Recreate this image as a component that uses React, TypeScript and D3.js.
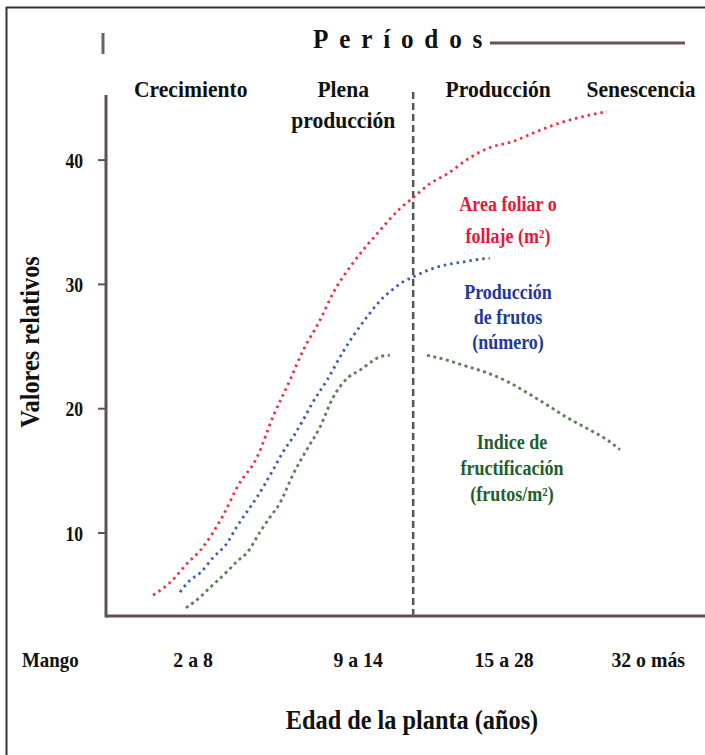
import React from "react";
import * as d3 from "d3";

// Relative plant age (0–100 along the axis) and relative values
const areaX = [7.7, 10.5, 13.5, 15.6, 19.4, 21.9, 25.1, 27.8, 30.6, 32.8, 35.6, 37.8, 41.1, 45.2, 49.0, 51.0, 54.0, 56.9, 60.7, 64.0, 67.9, 71.9, 75.8, 79.6, 83.6];
const areaY = [5.0, 6.0, 7.6, 8.6, 11.4, 13.8, 16.1, 19.4, 22.3, 24.7, 27.1, 29.3, 31.7, 34.1, 36.1, 36.9, 38.1, 38.9, 40.2, 41.0, 41.5, 42.3, 43.0, 43.5, 43.9];

const frutosX = [12.2, 13.9, 15.6, 17.7, 20.1, 21.7, 23.4, 25.1, 27.8, 29.4, 31.1, 32.8, 34.4, 36.8, 39.5, 41.1, 43.5, 45.7, 47.8, 49.5, 51.2, 54.0, 56.9, 59.5, 61.9, 64.0];
const frutosY = [5.25, 6.2, 6.8, 8.0, 9.2, 10.5, 11.7, 12.9, 15.1, 16.5, 17.7, 19.1, 20.5, 22.3, 24.6, 25.8, 27.4, 28.7, 29.6, 30.2, 30.6, 31.2, 31.6, 31.8, 32.0, 32.1];

const indiceX = [13.2, 15.6, 17.2, 20.1, 21.7, 23.4, 25.6, 27.3, 28.9, 31.1, 33.4, 35.6, 37.8, 40.3, 42.3, 44.3, 45.7, 47.3, 50, 53.5, 56.9, 60.2, 63.5, 66.9, 70.2, 73.6, 76.9, 80.3, 83.6, 85.8];
const indiceY: (number | null)[] = [3.97, 4.86, 5.6, 6.9, 7.7, 8.4, 10.1, 11.3, 12.4, 14.7, 16.7, 18.5, 20.9, 22.5, 23.1, 23.8, 24.2, 24.3, null, 24.3, 23.9, 23.4, 22.9, 22.2, 21.3, 20.3, 19.3, 18.4, 17.5, 16.7];

const yTicks = [10, 20, 30, 40];
const xTickLabels = ["2 a 8", "9 a 14", "15 a 28", "32 o más"];
const xTickPos = [14.4, 42, 66.4, 90.5];
const periodLabels = [["Crecimiento"], ["Plena", "producción"], ["Producción"], ["Senescencia"]];
const periodPos = [14.0, 39.5, 65.4, 89.3];
const boundaryX = 51.2;

const areaLabel = ["Area foliar o", "follaje (m²)"];
const frutosLabel = ["Producción", "de frutos", "(número)"];
const indiceLabel = ["Indice de", "fructificación", "(frutos/m²)"];

const FONT = "'Liberation Serif', 'Times New Roman', serif";

function CText(props: { x: number; y: number; size: number; sx?: number; anchor?: string; fill?: string; rotate?: number; children: any; ls?: number; baseline?: string }) {
  const { x, y, size, sx = 0.9, anchor = "middle", fill = "#111", rotate = 0, ls, baseline } = props;
  return (
    <text
      transform={`translate(${x},${y}) rotate(${rotate}) scale(${sx},1)`}
      fontFamily={FONT}
      fontWeight="bold"
      fontSize={size}
      textAnchor={anchor}
      fill={fill}
      letterSpacing={ls}
      dominantBaseline={baseline}
    >
      {props.children}
    </text>
  );
}

export default function App() {
  const W = 705, H = 755;
  const x = d3.scaleLinear().domain([0, 100]).range([107, 705]);
  const y = d3.scaleLinear().domain([0, 40]).range([657.3, 160.1]);
  const yBottom = 616;

  const mk = (xs: number[], ys: (number | null)[]) =>
    d3.line<number>()
      .defined((i) => ys[i] !== null)
      .x((i) => x(xs[i]))
      .y((i) => y(ys[i] as number))
      .curve(d3.curveMonotoneX)(xs.map((_, i) => i)) || "";

  const red = "#ef2f45";
  const blue = "#3d5fa6";
  const green = "#5f7f58";
  const axisCol = "#5e5250";

  return (
    <svg width={W} height={H} style={{ position: "absolute", left: 0, top: 0, background: "#fff" }}>
      {/* frame */}
      <line x1={6} y1={7.5} x2={W} y2={7.5} stroke="#333" strokeWidth={2} />
      <line x1={6.5} y1={7} x2={6.5} y2={H} stroke="#333" strokeWidth={2} />

      {/* title */}
      <line x1={103} y1={33} x2={103} y2={54} stroke="#6b6262" strokeWidth={3} />
      <CText x={313} y={48} size={28} anchor="start" ls={12}>Períodos</CText>
      <line x1={490} y1={43} x2={685} y2={43} stroke="#6b5552" strokeWidth={3} />

      {/* period labels */}
      {periodLabels.map((lines, i) =>
        lines.map((t, j) => (
          <CText key={`${i}-${j}`} x={x(periodPos[i])} y={97 + j * 31} size={24}>{t}</CText>
        ))
      )}

      {/* axes */}
      <line x1={x(0) - 1} y1={95} x2={x(0) - 1} y2={yBottom + 1.5} stroke={axisCol} strokeWidth={3} />
      <line x1={x(0) - 1} y1={yBottom} x2={W} y2={yBottom} stroke={axisCol} strokeWidth={3} />
      {yTicks.map((t) => (
        <g key={t}>
          <line x1={98} x2={x(0)} y1={y(t)} y2={y(t)} stroke={axisCol} strokeWidth={2} />
          <CText x={83} y={y(t)} size={22} sx={0.8} anchor="end" baseline="central">{t}</CText>
        </g>
      ))}

      {/* period boundary */}
      <line x1={x(boundaryX)} y1={92} x2={x(boundaryX)} y2={yBottom} stroke="#555" strokeWidth={2.5} strokeDasharray="7 4" />

      {/* series */}
      <path d={mk(areaX, areaY)} fill="none" stroke={red} strokeWidth={2.8} strokeDasharray="2.5 4" />
      <path d={mk(frutosX, frutosY)} fill="none" stroke={blue} strokeWidth={2.8} strokeDasharray="2.5 4" />
      <path d={mk(indiceX, indiceY)} fill="none" stroke={green} strokeWidth={2.8} strokeDasharray="3 3.5" />

      {/* series labels */}
      {areaLabel.map((t, i) => (
        <CText key={t} x={508} y={211 + i * 32} size={20} fill="#e8173a">{t}</CText>
      ))}
      {frutosLabel.map((t, i) => (
        <CText key={t} x={508} y={299 + i * 25} size={20} fill="#22399a">{t}</CText>
      ))}
      {indiceLabel.map((t, i) => (
        <CText key={t} x={512} y={449 + i * 26} size={20} fill="#1f5e2c">{t}</CText>
      ))}

      {/* x tick labels */}
      <CText x={22} y={667} size={21} anchor="start">Mango</CText>
      {xTickLabels.map((t, i) => (
        <CText key={t} x={x(xTickPos[i])} y={667} size={22}>{t}</CText>
      ))}

      {/* axis titles */}
      <CText x={412} y={729} size={27}>Edad de la planta (años)</CText>
      <CText x={30} y={342} size={27} rotate={-90} baseline="central">Valores relativos</CText>
    </svg>
  );
}
